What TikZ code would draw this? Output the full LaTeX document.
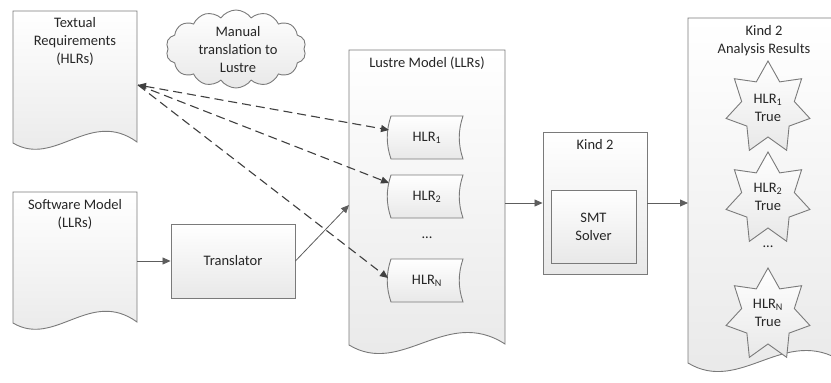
\documentclass[tikz,border=0pt]{standalone}
\usepackage{fontspec}
\setmainfont{Carlito}
\usetikzlibrary{arrows.meta,shapes.symbols,calc}
\definecolor{txt}{HTML}{262626}
\definecolor{bord}{HTML}{7A7A7A}
\definecolor{conn}{HTML}{404040}
\tikzset{
  shapebox/.style={draw=bord, line width=0.9pt, top color=white, bottom color=black!9},
  lbl/.style={font=\fontsize{14.5}{18}\selectfont, text=txt, align=center, inner sep=0pt},
  rectbox/.style={shapebox, rectangle, inner sep=0pt},
  solidarrow/.style={draw=conn!85, line width=0.8pt, -{Triangle[length=8pt,width=7pt]}},
  dasharrow/.style={draw=conn, line width=1.1pt, dash pattern=on 9pt off 5pt, -{Triangle[length=8pt,width=7pt]}},
  cloudbox/.style={shapebox, cloud, cloud puffs=14, cloud puff arc=110, aspect=1.8, inner sep=0pt, minimum width=140, minimum height=78},
}
\newcommand{\hlrshape}[2]{%
  \path[shapebox] (#1-36,#2-21.5) -- (#1+36,#2-21.5)
    .. controls (#1+31,#2-7) and (#1+31,#2+7) .. (#1+36,#2+21.5)
    -- (#1-36,#2+21.5)
    .. controls (#1-41,#2+7) and (#1-41,#2-7) .. (#1-36,#2-21.5) -- cycle;}
\newcommand{\starshape}[2]{%
  \path[shapebox] plot[samples at={0,...,13}, variable=\i]
    ({#1 + (mod(\i,2)==0 ? 43 : 27)*cos(90+\i*360/14)},
     {#2 - (mod(\i,2)==0 ? 47 : 29)*sin(90+\i*360/14)}) -- cycle;}
\begin{document}
\begin{tikzpicture}[x=1pt,y=-1pt]
\useasboundingbox (0,0) rectangle (831,383);
\begin{scope}
\clip (0,0) rectangle (831,383);
% documents
\path[shapebox] (13,11) -- (137,11) -- (137,142)
  .. controls (90,108) and (55,168) .. (13,143) -- cycle;
\path[shapebox] (13,192) -- (137,192) -- (137,322)
  .. controls (90,288) and (55,348) .. (13,323) -- cycle;
\path[shapebox] (349,50) -- (505,50) -- (505,344)
  .. controls (446,306) and (402,377) .. (349,345) -- cycle;
\path[shapebox] (688,18) -- (843,18) -- (843,362)
  .. controls (785,324) and (741,395) .. (688,363) -- cycle;
\end{scope}

\node[lbl] (treqtxt) at (75,41) {Textual\\Requirements\\(HLRs)};
\node[lbl] (swtxt) at (75,214) {Software Model\\(LLRs)};
\node[lbl] (lustxt) at (427,63) {Lustre Model (LLRs)};
\node[lbl] (restxt) at (764,41) {Kind 2\\Analysis Results};

% cloud
\node[cloudbox] (cloud) at (236,49) {};
\node[lbl] (cloudtxt) at (238,50) {Manual\\translation to\\Lustre};

% translator
\node[rectbox, minimum width=124, minimum height=74] (tr) at (233,261) {};
\node[lbl] (trtxt) at (tr) {Translator};

% HLR shapes
\hlrshape{427}{137.5}
\hlrshape{427}{196.5}
\hlrshape{427}{280.5}
\node[lbl] (h1) at (427,137.5) {HLR\textsubscript{1}};
\node[lbl] (h2) at (427,196.5) {HLR\textsubscript{2}};
\node[lbl] (hn) at (427,280.5) {HLR\textsubscript{N}};
\node[lbl] (ldots) at (427,238) {...};

% Kind 2
\node[rectbox, minimum width=104, minimum height=142] (k2) at (595,203) {};
\node[lbl] (k2txt) at (595,145) {Kind 2};
\node[rectbox, minimum width=85, minimum height=73] (smt) at (593.5,226.5) {};
\node[lbl] (smttxt) at (smt) {SMT\\Solver};

% stars
\starshape{768}{108}
\starshape{768}{199}
\starshape{768}{315}
\node[lbl] (s1) at (768,108) {HLR\textsubscript{1}\\True};
\node[lbl] (s2) at (768,197) {HLR\textsubscript{2}\\True};
\node[lbl] (sn) at (768,313) {HLR\textsubscript{N}\\True};
\node[lbl] (rdots) at (768,247) {...};

% connector coordinates
\coordinate (treq) at (138,85);
\coordinate (h1in) at (389,130);
\coordinate (h2in) at (389,183);
\coordinate (hnin) at (388,278);
\coordinate (swR) at (137,261);
\coordinate (lusL) at (349,205);
\coordinate (lusR) at (505,203);
\coordinate (resL) at (688,203);

% connectors
\draw[dasharrow, {Triangle[length=8pt,width=7pt]}-{Triangle[length=8pt,width=7pt]}] (treq) -- (h1in);
\draw[dasharrow] (treq) -- (h2in);
\draw[dasharrow] (treq) -- (hnin);
\draw[solidarrow] (swR) -- (tr.west);
\draw[solidarrow] (tr.east) -- (lusL);
\draw[solidarrow] (lusR) -- (k2.west);
\draw[solidarrow] (k2.east) -- (resL);
\end{tikzpicture}
\end{document}
